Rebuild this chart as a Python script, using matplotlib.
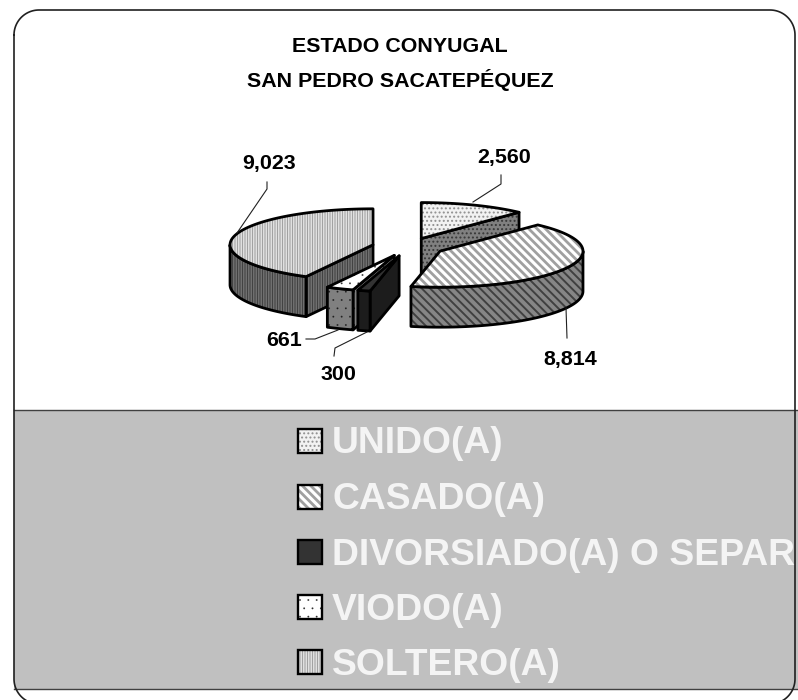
import numpy as np
import matplotlib
matplotlib.use("Agg")
from matplotlib import pyplot as plt
from matplotlib.patches import Polygon, Rectangle

categorias = ["UNIDO(A)", "CASADO(A)", "DIVORSIADO(A) O SEPAR", "VIODO(A)", "SOLTERO(A)"]
valores = [2560, 8814, 300, 661, 9023]
etiquetas = ["2,560", "8,814", "300", "661", "9,023"]

# centro y radios del pastel, en pixeles
cx, cy = 408, 247
rx, ry = 143, 36
alto = 40
explode = 0.252

# estilo: tapa (fondo, color trama, grosor), pared (fondo, color trama, grosor)
estilos = [
    dict(top="#f2f2f2", wall="#808080", hatch="....", hc_top="#909090", hc_wall="#383838", hl=0.9, hl_wall=0.9),
    dict(top="#ffffff", wall="#868686", hatch="\\\\\\\\", hc_top="#a0a0a0", hc_wall="#404040", hl=2.0, hl_wall=1.4),
    dict(top="#333333", wall="#1c1c1c", hatch="", hc_top="#333333", hc_wall="#1c1c1c", hl=1.0, hl_wall=1.0),
    dict(top="#ffffff", wall="#808080", hatch="..", hc_top="#303030", hc_wall="#202020", hl=0.1, hl_wall=0.1),
    dict(top="#ffffff", wall="#868686", hatch="||||||||||", hc_top="#a0a0a0", hc_wall="#404040", hl=0.7, hl_wall=0.7),
]

plt.rcParams["font.family"] = ["Liberation Sans", "DejaVu Sans"]
fig = plt.figure(figsize=(7.98, 7.0), dpi=100)
ax = fig.add_axes([0, 0, 1, 1])
ax.set_xlim(0, 798)
ax.set_ylim(700, 0)
ax.axis("off")

# banda gris
ax.add_patch(Rectangle((14, 410), 784, 279, fc="#c0c0c0", ec="none", zorder=2))
ax.plot([14, 798], [410, 410], color="#404040", lw=1.0, zorder=3)
ax.plot([14, 798], [689, 689], color="#404040", lw=1.0, zorder=3)

# marco redondeado, se sale por abajo
x0, x1, y0, y1, r = 14, 795, 10, 704, 25
t = np.radians(np.linspace(0, 90, 25))
marco_x = np.concatenate([x0 + r - r * np.cos(t), x1 - r + r * np.sin(t),
                          x1 - r + r * np.cos(t), x0 + r - r * np.sin(t), [x0]])
marco_y = np.concatenate([y0 + r - r * np.sin(t), y0 + r - r * np.cos(t),
                          y1 - r + r * np.sin(t), y1 - r + r * np.cos(t), [y0 + r]])
ax.plot(marco_x, marco_y, color="#202020", lw=1.2, zorder=3)

# angulos en sentido horario desde las 12
grados = np.array(valores) / sum(valores) * 360
inicio = np.concatenate([[0], np.cumsum(grados)[:-1]])


def punto(c, ang):
    a = np.radians(ang)
    return np.array([c[0] + rx * np.sin(a), c[1] - ry * np.cos(a)])


def cara(pts, fondo, trama, color_trama, hl, z):
    plt.rcParams["hatch.linewidth"] = hl
    if trama:
        ax.add_patch(Polygon(pts, closed=True, fc=fondo, ec=color_trama, hatch=trama, lw=0, zorder=z))
    else:
        ax.add_patch(Polygon(pts, closed=True, fc=fondo, ec="none", zorder=z))
    ax.add_patch(Polygon(pts, closed=True, fc="none", ec="black", lw=2.0, joinstyle="round", zorder=z + 0.1))


def pared(p, q, est, z):
    pts = [p, q, q + [0, alto], p + [0, alto]]
    cara(pts, est["wall"], est["hatch"], est["hc_wall"], est["hl_wall"], z)


# orden de pintado: de atras hacia adelante
z = 5
for i in [0, 4, 3, 2, 1]:
    a0, a1 = inicio[i], inicio[i] + grados[i]
    med = np.radians((a0 + a1) / 2)
    c = np.array([cx + explode * rx * np.sin(med), cy - explode * ry * np.cos(med)])
    est = estilos[i]
    # cortes radiales visibles
    if np.cos(np.radians(a0 - 90)) < -1e-6:
        pared(c, punto(c, a0), est, z)
        z += 1
    if np.cos(np.radians(a1 + 90)) < -1e-6:
        pared(c, punto(c, a1), est, z)
        z += 1
    # pared exterior
    w0, w1 = max(a0, 90), min(a1, 270)
    if w1 > w0:
        arco = np.array([punto(c, a) for a in np.linspace(w0, w1, 60)])
        pts = np.vstack([arco, arco[::-1] + [0, alto]])
        cara(pts, est["wall"], est["hatch"], est["hc_wall"], est["hl_wall"], z)
        z += 1
    # tapa
    arco = np.array([punto(c, a) for a in np.linspace(a0, a1, 80)])
    cara(np.vstack([[c], arco]), est["top"], est["hatch"], est["hc_top"], est["hl"], z)
    z += 1

# lineas guia de las etiquetas
guias = [
    ([501, 501, 473], [175, 184, 202]),
    ([567, 566], [338, 308]),
    ([334, 335, 367], [356, 348, 332]),
    ([306, 315, 338], [339, 339, 330]),
    ([267, 267, 237], [182, 189, 233]),
]
pos_etiqueta = [(504, 158), (570, 360), (338, 375), (284, 340), (269, 163)]
for (gx, gy), (ex, ey), txt in zip(guias, pos_etiqueta, etiquetas):
    ax.plot(gx, gy, color="#202020", lw=0.8, zorder=60)
    ax.text(ex, ey, txt, ha="center", va="center", fontsize=15.4, fontweight="bold", color="black", zorder=61)

ax.text(400, 47, "ESTADO CONYUGAL", ha="center", va="center", fontsize=15.4, fontweight="bold", zorder=61)
ax.text(400, 80, "SAN PEDRO SACATEPÉQUEZ", ha="center", va="center", fontsize=15.4, fontweight="bold", zorder=61)

# leyenda
ley_y = [440.5, 496.5, 551.5, 606.5, 662]
ley_base = [453, 509, 565, 620, 675]
for nombre, est, y, base in zip(categorias, estilos, ley_y, ley_base):
    plt.rcParams["hatch.linewidth"] = est["hl"]
    if est["hatch"]:
        ax.add_patch(Rectangle((298, y - 12), 24, 24, fc=est["top"], ec=est["hc_top"], hatch=est["hatch"], lw=0, zorder=60))
    else:
        ax.add_patch(Rectangle((298, y - 12), 24, 24, fc=est["top"], ec="none", zorder=60))
    ax.add_patch(Rectangle((298, y - 12), 24, 24, fc="none", ec="black", lw=1.7, zorder=61))
    ax.text(332, base, nombre, ha="left", va="baseline", fontsize=26.8, fontweight="bold", color="#f4f4f4", zorder=61)

fig.savefig("out.png", dpi=100)
